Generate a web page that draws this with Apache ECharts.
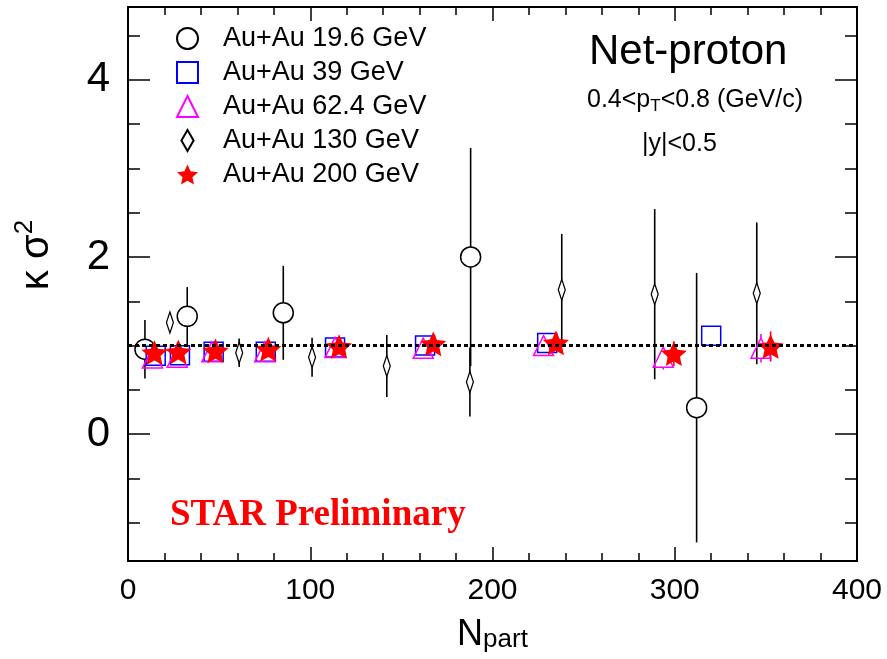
<!DOCTYPE html>
<html>
<head>
<meta charset="utf-8">
<script src="https://cdn.jsdelivr.net/npm/echarts@6/dist/echarts.min.js"></script>
<style>
  html, body { margin: 0; background: #fff; }
  #chart { width: 887px; height: 659px; }
</style>
</head>
<body>
<div id="chart"></div>
<script>
// values: N_part, kappa*sigma^2 and its error per energy
const npart196 = [9.3, 32.5, 85.2, 188, 312];
const ks196 = [0.96, 1.33, 1.37, 2.0, 0.30];
const err196 = [0.33, 0.33, 0.53, 1.23, 1.52];

const npart39 = [15.2, 28.5, 47, 75.6, 113.6, 163, 230, 320];
const ks39 = [0.885, 0.89, 0.93, 0.93, 0.98, 1.0, 1.03, 1.11];
const err39 = [0.03, 0.03, 0.03, 0.03, 0.03, 0.03, 0.04, 0.05];

const npart624 = [13.4, 27, 46, 75, 113.6, 162, 228, 293.7, 347.3];
const ks624 = [0.86, 0.87, 0.93, 0.93, 0.98, 0.97, 1.0, 0.87, 0.97];
const err624 = [0.03, 0.03, 0.03, 0.03, 0.03, 0.03, 0.04, 0.14, 0.16];

const npart130 = [23, 61, 101, 142, 187.6, 238, 289, 345];
const ks130 = [1.26, 0.92, 0.87, 0.77, 0.59, 1.63, 1.58, 1.59];
const err130 = [0.08, 0.16, 0.22, 0.35, 0.39, 0.63, 0.96, 0.8];

const npart200 = [14.5, 27.6, 48, 77, 115.8, 167.5, 234.8, 299.5, 352.6];
const ks200 = [0.92, 0.93, 0.94, 0.96, 0.99, 1.02, 1.03, 0.91, 0.99];
const err200 = [0.03, 0.03, 0.03, 0.03, 0.03, 0.03, 0.04, 0.14, 0.17];

const seriesNames = ["Au+Au 19.6 GeV", "Au+Au 39 GeV", "Au+Au 62.4 GeV", "Au+Au 130 GeV", "Au+Au 200 GeV"];

// axis ranges and ticks
const xRange = [0, 400];
const yRange = [-1.43, 4.82];
const yMajorTicks = [0, 2, 4];
const yMinorTicks = [-1, -0.5, 0.5, 1, 1.5, 2.5, 3, 3.5, 4.5];
const refLine = 1;

// five point star as a symbol path
function starPath(inner) {
  let d = "";
  for (let i = 0; i < 10; i++) {
    const r = i % 2 ? inner : 1;
    const a = (Math.PI * i) / 5 - Math.PI / 2;
    d += (i ? "L" : "M") + (r * Math.cos(a)).toFixed(3) + "," + (r * Math.sin(a)).toFixed(3);
  }
  return "path://" + d + "Z";
}
const STAR = starPath(0.47);
const DIAMOND = "path://M0,-1L0.58,0L0,1L-0.58,0Z";

const font = "Liberation Sans";

// vertical error bars, leaving a gap for open markers
function errorBars(xs, ys, es, color, gap) {
  return {
    type: "custom",
    silent: true,
    z: 2,
    data: xs.map((x, i) => [x, ys[i], es[i]]),
    renderItem: (params, api) => {
      const c = api.coord([api.value(0), api.value(1)]);
      const hi = api.coord([api.value(0), api.value(1) + api.value(2)]);
      const lo = api.coord([api.value(0), api.value(1) - api.value(2)]);
      const style = { stroke: color, lineWidth: 1.6 };
      const children = [];
      if (c[1] - hi[1] > gap) {
        children.push({ type: "line", shape: { x1: c[0], y1: hi[1], x2: c[0], y2: c[1] - gap }, style: style });
      }
      if (lo[1] - c[1] > gap) {
        children.push({ type: "line", shape: { x1: c[0], y1: c[1] + gap, x2: c[0], y2: lo[1] }, style: style });
      }
      return { type: "group", children: children };
    },
  };
}

function points(name, xs, ys, symbol, size, color, filled) {
  return {
    name: name,
    type: "scatter",
    z: 3,
    symbol: symbol,
    symbolSize: size,
    symbolKeepAspect: true,
    data: xs.map((x, i) => [x, ys[i]]),
    itemStyle: filled
      ? { color: color, opacity: 1 }
      : { color: "rgba(0,0,0,0)", borderColor: color, borderWidth: 1.5, opacity: 1 },
  };
}

const frame = { show: true, onZero: false, lineStyle: { color: "#000", width: 2 } };
const tickStyle = { color: "#000", width: 1.5 };

const chart = echarts.init(document.getElementById("chart"));
chart.setOption({
  animation: false,
  backgroundColor: "#fff",
  grid: { left: 128, right: 30, top: 7, bottom: 98 },
  xAxis: [
    {
      type: "value", position: "bottom", min: xRange[0], max: xRange[1], interval: 100,
      axisLine: frame,
      axisTick: { inside: true, length: 14, lineStyle: tickStyle },
      minorTick: { show: true, splitNumber: 5, length: 8, lineStyle: tickStyle },
      splitLine: { show: false },
      axisLabel: { color: "#000", fontSize: 30, fontFamily: font, margin: 15 },
      name: "{a|N}{b|part}",
      nameLocation: "middle",
      nameGap: 46,
      nameTextStyle: {
        rich: {
          a: { fontSize: 36, fontFamily: font, color: "#000", lineHeight: 36, verticalAlign: "top" },
          b: { fontSize: 26, fontFamily: font, color: "#000", lineHeight: 26, verticalAlign: "bottom", padding: [16, 0, 0, 0] },
        },
      },
    },
    {
      type: "value", position: "top", min: xRange[0], max: xRange[1], interval: 100,
      axisLine: frame,
      axisTick: { inside: true, length: 14, lineStyle: tickStyle },
      minorTick: { show: true, splitNumber: 5, length: 8, lineStyle: tickStyle },
      splitLine: { show: false },
      axisLabel: { show: false },
    },
  ],
  yAxis: [
    {
      type: "value", position: "left", min: yRange[0], max: yRange[1],
      axisLine: frame,
      axisTick: { inside: true, length: 22, customValues: yMajorTicks, lineStyle: tickStyle },
      splitLine: { show: false },
      axisLabel: { color: "#000", fontSize: 42, fontFamily: font, margin: 18, customValues: yMajorTicks },
      name: "{k|κ σ}{s|2}",
      nameLocation: "middle",
      nameGap: 66,
      nameRotate: 90,
      nameTextStyle: {
        padding: [0, 0, 0, 58],
        rich: {
          k: { fontSize: 40, fontFamily: font, color: "#000" },
          s: { fontSize: 26, fontFamily: font, color: "#000", verticalAlign: "top", padding: [0, 0, 24, 0] },
        },
      },
    },
    {
      type: "value", position: "left", min: yRange[0], max: yRange[1],
      axisLine: { show: false, onZero: false },
      axisTick: { inside: true, length: 12, customValues: yMinorTicks, lineStyle: tickStyle },
      splitLine: { show: false },
      axisLabel: { show: false },
    },
    {
      type: "value", position: "right", min: yRange[0], max: yRange[1],
      axisLine: frame,
      axisTick: { inside: true, length: 22, customValues: yMajorTicks, lineStyle: tickStyle },
      splitLine: { show: false },
      axisLabel: { show: false },
    },
    {
      type: "value", position: "right", min: yRange[0], max: yRange[1],
      axisLine: { show: false, onZero: false },
      axisTick: { inside: true, length: 12, customValues: yMinorTicks, lineStyle: tickStyle },
      splitLine: { show: false },
      axisLabel: { show: false },
    },
  ],
  legend: {
    orient: "vertical",
    left: 171,
    top: 20,
    itemWidth: 21,
    itemHeight: 21,
    itemGap: 7,
    symbolKeepAspect: true,
    textStyle: { color: "#000", fontSize: 27, fontFamily: font, padding: [0, 0, 0, 20] },
    data: [
      { name: seriesNames[0], icon: "circle" },
      { name: seriesNames[1], icon: "rect" },
      { name: seriesNames[2], icon: "triangle" },
      { name: seriesNames[3], icon: DIAMOND },
      { name: seriesNames[4], icon: STAR },
    ],
  },
  graphic: [
    { type: "text", left: 589, top: 31, style: { text: "Net-proton", fontSize: 42, fontFamily: font, fill: "#000" } },
    {
      type: "text", left: 587, top: 88,
      style: {
        text: "{n|0.4<p}{t|T}{n|<0.8 (GeV/c)}",
        rich: {
          n: { fontSize: 25, fontFamily: font, fill: "#000" },
          t: { fontSize: 17, fontFamily: font, fill: "#000", verticalAlign: "bottom", padding: [12, 0, 0, 0] },
        },
      },
    },
    { type: "text", left: 642, top: 132, style: { text: "|y|<0.5", fontSize: 25, fontFamily: font, fill: "#000" } },
    {
      type: "text", left: 170, top: 497,
      style: { text: "STAR Preliminary", fontSize: 37, fontWeight: "bold", fontFamily: "Liberation Serif", fill: "#ff0000" },
    },
  ],
  series: [
    errorBars(npart196, ks196, err196, "#000", 10),
    points(seriesNames[0], npart196, ks196, "circle", 20, "#000", false),
    errorBars(npart39, ks39, err39, "#0000ff", 10),
    points(seriesNames[1], npart39, ks39, "rect", 19, "#0000ff", false),
    errorBars(npart624, ks624, err624, "#ff00ff", 10),
    points(seriesNames[2], npart624, ks624, "triangle", 20, "#ff00ff", false),
    errorBars(npart130, ks130, err130, "#000", 10),
    points(seriesNames[3], npart130, ks130, DIAMOND, [12, 21], "#000", false),
    Object.assign(errorBars(npart200, ks200, err200, "#ff0000", 0), {
      markLine: {
        silent: true,
        symbol: "none",
        label: { show: false },
        lineStyle: { color: "#000", width: 3, type: [4, 3] },
        data: [{ yAxis: refLine }],
      },
    }),
    points(seriesNames[4], npart200, ks200, STAR, 26, "#ff0000", true),
  ],
});
</script>
</body>
</html>
